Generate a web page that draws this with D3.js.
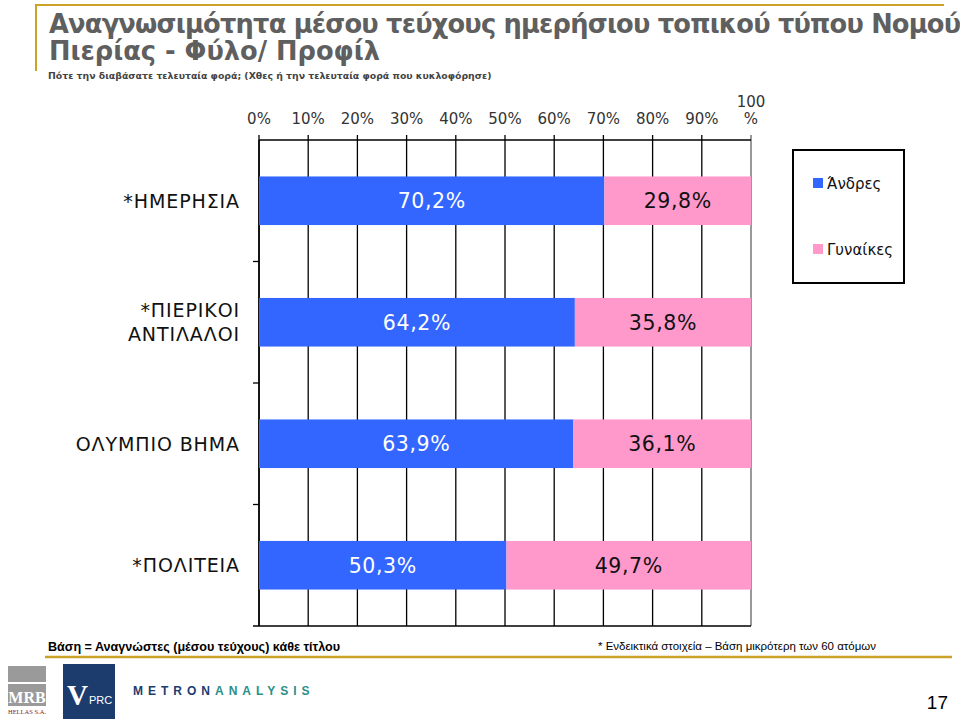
<!DOCTYPE html>
<html><head><meta charset="utf-8">
<script src="https://cdn.jsdelivr.net/npm/d3@7"></script>
<style>
html,body{margin:0;padding:0;background:#fff;overflow:hidden;}
svg{display:block;}
</style></head>
<body>
<svg id="c" width="960" height="719"></svg>
<script>
const categories = ["*ΗΜΕΡΗΣΙΑ", "*ΠΙΕΡΙΚΟΙ ΑΝΤΙΛΑΛΟΙ", "ΟΛΥΜΠΙΟ ΒΗΜΑ", "*ΠΟΛΙΤΕΙΑ"];
const categoryLines = [["*ΗΜΕΡΗΣΙΑ"], ["*ΠΙΕΡΙΚΟΙ", "ΑΝΤΙΛΑΛΟΙ"], ["ΟΛΥΜΠΙΟ ΒΗΜΑ"], ["*ΠΟΛΙΤΕΙΑ"]];
const seriesNames = ["Άνδρες", "Γυναίκες"];
const men = [70.2, 64.2, 63.9, 50.3];
const women = [29.8, 35.8, 36.1, 49.7];
const tickValues = [0, 10, 20, 30, 40, 50, 60, 70, 80, 90, 100];
const title1 = "Αναγνωσιμότητα μέσου τεύχους ημερήσιου τοπικού τύπου Νομού";
const title2 = "Πιερίας - Φύλο/ Προφίλ";
const subtitle = "Πότε την διαβάσατε τελευταία φορά; (Χθες ή την τελευταία φορά που κυκλοφόρησε)";
const footLeft = "Βάση = Αναγνώστες (μέσου τεύχους) κάθε τίτλου";
const footRight = "* Ενδεικτικά στοιχεία – Βάση μικρότερη των 60 ατόμων";
const pageNumber = "17";

const svg = d3.select("#c");
const FONT = "'DejaVu Sans', Verdana, sans-serif";
const blue = "#3366FF", pink = "#FF99CC", gold = "#C9A227";

// Header frame
svg.append("line").attr("x1", 35).attr("x2", 944).attr("y1", 5).attr("y2", 5)
  .attr("stroke", gold).attr("stroke-width", 2);
svg.append("line").attr("x1", 36).attr("x2", 36).attr("y1", 4).attr("y2", 71)
  .attr("stroke", gold).attr("stroke-width", 2);

const t2 = svg.append("text").attr("x", 49).attr("y", 60).text(title2)
  .attr("font-family", FONT).attr("font-weight", "bold").attr("font-size", 22).attr("fill", "#5f5f5f");
const w2 = t2.node().getComputedTextLength();
const tSize = 22 * 331 / w2;
t2.attr("font-size", tSize);
svg.append("text").attr("x", 49).attr("y", 33).text(title1)
  .attr("font-family", FONT).attr("font-weight", "bold").attr("font-size", tSize).attr("fill", "#5f5f5f")
  .attr("textLength", 912).attr("lengthAdjust", "spacing");
const st = svg.append("text").attr("x", 48).attr("y", 79).text(subtitle)
  .attr("font-family", FONT).attr("font-weight", "bold").attr("font-size", 11).attr("fill", "#444");
let ws = st.node().getComputedTextLength();
st.attr("font-size", 11 * 444 / ws);

// Chart
const x0 = 259, x1 = 751, yTop = 140, yBot = 626;
const x = d3.scaleLinear().domain([0, 100]).range([x0, x1]);
const y = d3.scaleBand().domain(categories).range([yTop, yBot]).paddingInner(0.6).paddingOuter(0.3);

const g = svg.append("g");
// gridlines
g.selectAll("line.grid").data(tickValues).join("line")
  .attr("x1", d => x(d)).attr("x2", d => x(d)).attr("y1", yTop - 5).attr("y2", yBot)
  .attr("stroke", d => d === 100 ? "#999" : "#000").attr("stroke-width", d => d === 100 ? 2 : 1.3);
// top axis line
g.append("line").attr("x1", x0).attr("x2", x1).attr("y1", yTop).attr("y2", yTop)
  .attr("stroke", "#000").attr("stroke-width", 1.5);
// bottom line
g.append("line").attr("x1", x0 - 6).attr("x2", x1).attr("y1", yBot).attr("y2", yBot)
  .attr("stroke", "#000").attr("stroke-width", 1.3);
// left axis + category boundary ticks
g.append("line").attr("x1", x0).attr("x2", x0).attr("y1", yTop).attr("y2", yBot)
  .attr("stroke", "#000").attr("stroke-width", 1.5);
const step = y.step();
const boundaries = categories.slice(1).map(c => y(c) - (step - y.bandwidth()) / 2);
g.selectAll("line.ctick").data(boundaries).join("line")
  .attr("x1", x0 - 6).attr("x2", x0).attr("y1", d => d).attr("y2", d => d)
  .attr("stroke", "#000").attr("stroke-width", 1.3);

// tick labels
const tl = g.selectAll("text.tick").data(tickValues).join("text")
  .attr("x", d => x(d)).attr("y", 124).attr("text-anchor", "middle")
  .attr("font-family", FONT).attr("font-size", 15).attr("fill", "#333");
tl.each(function(d) {
  const t = d3.select(this);
  if (d === 100) {
    t.append("tspan").attr("x", x(d)).attr("dy", -17).text("100");
    t.append("tspan").attr("x", x(d)).attr("dy", 17).text("%");
  } else t.text(d + "%");
});

// bars
const rows = categories.map((c, i) => ({ c, m: men[i], w: women[i] }));
const fmt = v => d3.format(".1f")(v).replace(".", ",") + "%";
const bars = g.selectAll("g.row").data(rows).join("g");
bars.append("rect").attr("x", x(0)).attr("y", d => y(d.c)).attr("width", d => x(d.m) - x(0))
  .attr("height", y.bandwidth()).attr("fill", blue);
bars.append("rect").attr("x", d => x(d.m)).attr("y", d => y(d.c)).attr("width", d => x(d.m + d.w) - x(d.m))
  .attr("height", y.bandwidth()).attr("fill", pink);
bars.append("text").attr("x", d => (x(0) + x(d.m)) / 2).attr("y", d => y(d.c) + y.bandwidth() / 2 + 7.5)
  .attr("text-anchor", "middle").attr("font-family", FONT).attr("font-size", 20.5).attr("letter-spacing", 0.6)
  .attr("fill", "#fff").text(d => fmt(d.m));
bars.append("text").attr("x", d => (x(d.m) + x(d.m + d.w)) / 2).attr("y", d => y(d.c) + y.bandwidth() / 2 + 7.5)
  .attr("text-anchor", "middle").attr("font-family", FONT).attr("font-size", 20.5).attr("letter-spacing", 0.6)
  .attr("fill", "#111").text(d => fmt(d.w));

// category labels
categories.forEach((c, i) => {
  const lines = categoryLines[i];
  const cy = y(c) + y.bandwidth() / 2;
  const lh = 24;
  lines.forEach((ln, j) => {
    g.append("text").attr("x", 240).attr("y", cy + 7 + (j - (lines.length - 1) / 2) * lh)
      .attr("text-anchor", "end").attr("font-family", FONT).attr("font-size", 19).attr("letter-spacing", 0.9)
      .attr("fill", "#111").text(ln);
  });
});

// legend
const lg = svg.append("g");
lg.append("rect").attr("x", 793).attr("y", 150).attr("width", 111).attr("height", 133)
  .attr("fill", "#fff").attr("stroke", "#000").attr("stroke-width", 2);
const legColors = [blue, pink];
seriesNames.forEach((s, i) => {
  const ly = 184 + i * 66;
  lg.append("rect").attr("x", 813).attr("y", ly - 6).attr("width", 10).attr("height", 10).attr("fill", legColors[i]);
  lg.append("text").attr("x", 827).attr("y", ly + 5).attr("font-family", FONT).attr("font-size", 15)
    .attr("fill", "#111").text(s);
});

// footer
svg.append("text").attr("x", 48).attr("y", 651).text(footLeft)
  .attr("font-family", "'Liberation Sans', Arial, sans-serif").attr("font-weight", "bold").attr("font-size", 12).attr("fill", "#000")
  .attr("textLength", 292).attr("lengthAdjust", "spacingAndGlyphs");
svg.append("text").attr("x", 598).attr("y", 650).text(footRight)
  .attr("font-family", "'Liberation Sans Narrow', 'Liberation Sans', Arial, sans-serif").attr("font-size", 11.5).attr("fill", "#000")
  .attr("textLength", 278).attr("lengthAdjust", "spacingAndGlyphs");
svg.append("line").attr("x1", 45).attr("x2", 952).attr("y1", 657).attr("y2", 657)
  .attr("stroke", gold).attr("stroke-width", 2.5);

// logos
const lgG = svg.append("g");
lgG.append("rect").attr("x", 8).attr("y", 666).attr("width", 38).attr("height", 16).attr("fill", "#9a9a9a");
lgG.append("rect").attr("x", 8).attr("y", 684).attr("width", 38).attr("height", 22).attr("fill", "#9a9a9a");
lgG.append("text").attr("x", 27).attr("y", 703).attr("text-anchor", "middle").text("MRB")
  .attr("font-family", "'Liberation Serif', serif").attr("font-weight", "bold").attr("font-size", 16).attr("fill", "#fff");
lgG.append("text").attr("x", 27).attr("y", 714).attr("text-anchor", "middle").text("HELLAS S.A.")
  .attr("font-family", "'Liberation Serif', serif").attr("font-size", 6.5).attr("fill", "#8b1a1a");
lgG.append("rect").attr("x", 63).attr("y", 664).attr("width", 52).attr("height", 55).attr("fill", "#1d3c6e");
lgG.append("text").attr("x", 67).attr("y", 705).text("V")
  .attr("font-family", "'Liberation Serif', serif").attr("font-weight", "bold").attr("font-size", 29).attr("fill", "#fff");
lgG.append("text").attr("x", 89).attr("y", 704).text("PRC")
  .attr("font-family", "'Liberation Sans', Arial, sans-serif").attr("font-size", 11).attr("fill", "#fff");
const mt = lgG.append("text").attr("x", 133).attr("y", 695)
  .attr("font-family", "'Liberation Sans', Arial, sans-serif").attr("font-weight", "bold").attr("font-size", 12)
  .attr("letter-spacing", 5);
mt.append("tspan").attr("fill", "#1d3c6e").text("METRON");
mt.append("tspan").attr("fill", "#2a8f8a").text("ANALYSIS");
svg.append("text").attr("x", 948).attr("y", 709).attr("text-anchor", "end").text(pageNumber)
  .attr("font-family", "'Liberation Sans', Arial, sans-serif").attr("font-size", 19).attr("fill", "#000");
</script>
</body></html>
